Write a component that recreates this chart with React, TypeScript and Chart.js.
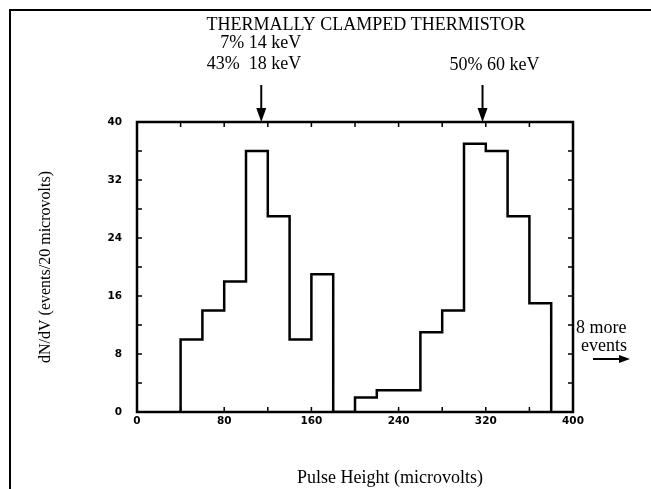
import React, { useEffect, useRef } from 'react';
import { Chart, registerables } from 'chart.js';

Chart.register(...registerables);

// ---- data ----
const binStarts = [40, 60, 80, 100, 120, 140, 160, 180, 200, 220, 240, 260, 280, 300, 320, 340, 360];
const binWidth = 20;
const counts = [10, 14, 18, 36, 27, 10, 19, 0, 2, 3, 3, 11, 14, 37, 36, 27, 15];

const xMin = 0;
const xMax = 400;
const xTickStep = 40;
const xLabelStep = 80;
const yMin = 0;
const yMax = 40;
const yTickStep = 4;
const yLabelStep = 8;

const chartTitle = 'THERMALLY CLAMPED THERMISTOR';
const xTitle = 'Pulse Height (microvolts)';
const yTitle = 'dN/dV (events/20 microvolts)';

const arrowValues = [114, 317];
const arrowLabelsLeft = ['7% 14 keV', '43%  18 keV'];
const arrowLabelsRight = ['50% 60 keV'];
const overflowNote = ['8 more', 'events'];

const W = 651;
const H = 489;

function buildSteps() {
  const pts: { x: number; y: number }[] = [];
  pts.push({ x: binStarts[0], y: 0 });
  binStarts.forEach((s, i) => {
    pts.push({ x: s, y: counts[i] });
    pts.push({ x: s + binWidth, y: counts[i] });
  });
  pts.push({ x: binStarts[binStarts.length - 1] + binWidth, y: 0 });
  return pts;
}

const decorPlugin = {
  id: 'decor',
  beforeDraw(chart: any) {
    const ctx = chart.ctx;
    ctx.save();
    ctx.fillStyle = '#ffffff';
    ctx.fillRect(0, 0, chart.width, chart.height);
    ctx.restore();
  },
  afterDraw(chart: any) {
    const ctx = chart.ctx;
    const { left, right, top, bottom } = chart.chartArea;
    const xs = chart.scales.x;
    const ys = chart.scales.y;
    ctx.save();
    ctx.strokeStyle = '#000';
    ctx.fillStyle = '#000';

    // plot box
    ctx.lineWidth = 2.5;
    ctx.strokeRect(left, top, right - left, bottom - top);

    // inward tick marks on all four sides
    ctx.lineWidth = 1.5;
    const tl = 5;
    ctx.beginPath();
    for (let v = xMin + xTickStep; v < xMax; v += xTickStep) {
      const px = xs.getPixelForValue(v);
      ctx.moveTo(px, bottom);
      ctx.lineTo(px, bottom - tl);
      ctx.moveTo(px, top);
      ctx.lineTo(px, top + tl);
    }
    for (let v = yMin + yTickStep; v < yMax; v += yTickStep) {
      const py = ys.getPixelForValue(v);
      ctx.moveTo(left, py);
      ctx.lineTo(left + tl, py);
      ctx.moveTo(right, py);
      ctx.lineTo(right - tl, py);
    }
    ctx.stroke();

    // outer frame (top and left edges visible)
    ctx.lineWidth = 2;
    ctx.beginPath();
    ctx.moveTo(10, H);
    ctx.lineTo(10, 10);
    ctx.lineTo(W, 10);
    ctx.stroke();

    // title
    ctx.font = '18px "Liberation Serif", "Times New Roman", serif';
    ctx.textAlign = 'center';
    ctx.textBaseline = 'alphabetic';
    ctx.fillText(chartTitle, 366, 30);

    // arrows
    arrowValues.forEach((v) => {
      const px = xs.getPixelForValue(v);
      ctx.lineWidth = 2;
      ctx.beginPath();
      ctx.moveTo(px, 85);
      ctx.lineTo(px, top - 10);
      ctx.stroke();
      ctx.beginPath();
      ctx.moveTo(px - 5, top - 14);
      ctx.lineTo(px + 5, top - 14);
      ctx.lineTo(px, top);
      ctx.closePath();
      ctx.fill();
    });

    // arrow labels
    ctx.font = '18px "Liberation Serif", "Times New Roman", serif';
    const lx = xs.getPixelForValue(arrowValues[0]);
    ctx.textAlign = 'right';
    ctx.fillText(arrowLabelsLeft[0], lx + 40, 48);
    ctx.fillText(arrowLabelsLeft[1], lx + 40, 69);
    const rx = xs.getPixelForValue(arrowValues[1]);
    ctx.textAlign = 'center';
    ctx.fillText(arrowLabelsRight[0], rx + 12, 70);

    // x axis title
    ctx.textAlign = 'center';
    ctx.fillText(xTitle, 390, 483);

    // overflow note
    ctx.textAlign = 'left';
    ctx.fillText(overflowNote[0], right + 3, 333);
    ctx.fillText(overflowNote[1], right + 8, 351);
    ctx.lineWidth = 2;
    ctx.beginPath();
    ctx.moveTo(right + 20, 359);
    ctx.lineTo(right + 48, 359);
    ctx.stroke();
    ctx.beginPath();
    ctx.moveTo(right + 46, 355);
    ctx.lineTo(right + 57, 359);
    ctx.lineTo(right + 46, 363);
    ctx.closePath();
    ctx.fill();

    ctx.restore();
  },
};

export default function App() {
  const canvasRef = useRef<HTMLCanvasElement | null>(null);

  useEffect(() => {
    const canvas = canvasRef.current;
    if (!canvas) return;
    const tickFont = { family: '"DejaVu Sans", sans-serif', weight: 'bold' as const, size: 10.5 };
    const chart = new Chart(canvas, {
      type: 'line',
      data: {
        datasets: [
          {
            data: buildSteps(),
            borderColor: '#000',
            borderWidth: 2.5,
            pointRadius: 0,
            fill: false,
            tension: 0,
          },
        ],
      },
      options: {
        responsive: false,
        animation: false,
        devicePixelRatio: 1,
        layout: { padding: { left: 10, right: 78, top: 122, bottom: 0 } },
        plugins: {
          legend: { display: false },
          title: { display: false },
          tooltip: { enabled: false },
        },
        scales: {
          x: {
            type: 'linear',
            min: xMin,
            max: xMax,
            grid: { display: false, drawTicks: false },
            border: { display: false },
            ticks: {
              stepSize: xTickStep,
              autoSkip: false,
              maxRotation: 0,
              padding: 3,
              color: '#000',
              font: tickFont,
              callback: (v: any) => (Number(v) % xLabelStep === 0 ? String(v) : ''),
            },
            afterFit: (s: any) => {
              s.height = 77;
            },
          },
          y: {
            type: 'linear',
            min: yMin,
            max: yMax,
            grid: { display: false, drawTicks: false },
            border: { display: false },
            ticks: {
              stepSize: yTickStep,
              autoSkip: false,
              padding: 15,
              color: '#000',
              font: tickFont,
              callback: (v: any) => (Number(v) % yLabelStep === 0 ? String(v) : ''),
            },
            title: {
              display: true,
              text: yTitle,
              color: '#000',
              font: { family: '"Liberation Serif", "Times New Roman", serif', size: 16 },
              padding: { top: 26, bottom: 0 },
            },
            afterFit: (s: any) => {
              s.width = 127;
            },
          },
        },
      },
      plugins: [decorPlugin],
    });
    return () => chart.destroy();
  }, []);

  return (
    <div style={{ position: 'fixed', left: 0, top: 0, width: W, height: H, background: '#fff' }}>
      <canvas ref={canvasRef} width={W} height={H} style={{ width: W, height: H, display: 'block' }} />
    </div>
  );
}
